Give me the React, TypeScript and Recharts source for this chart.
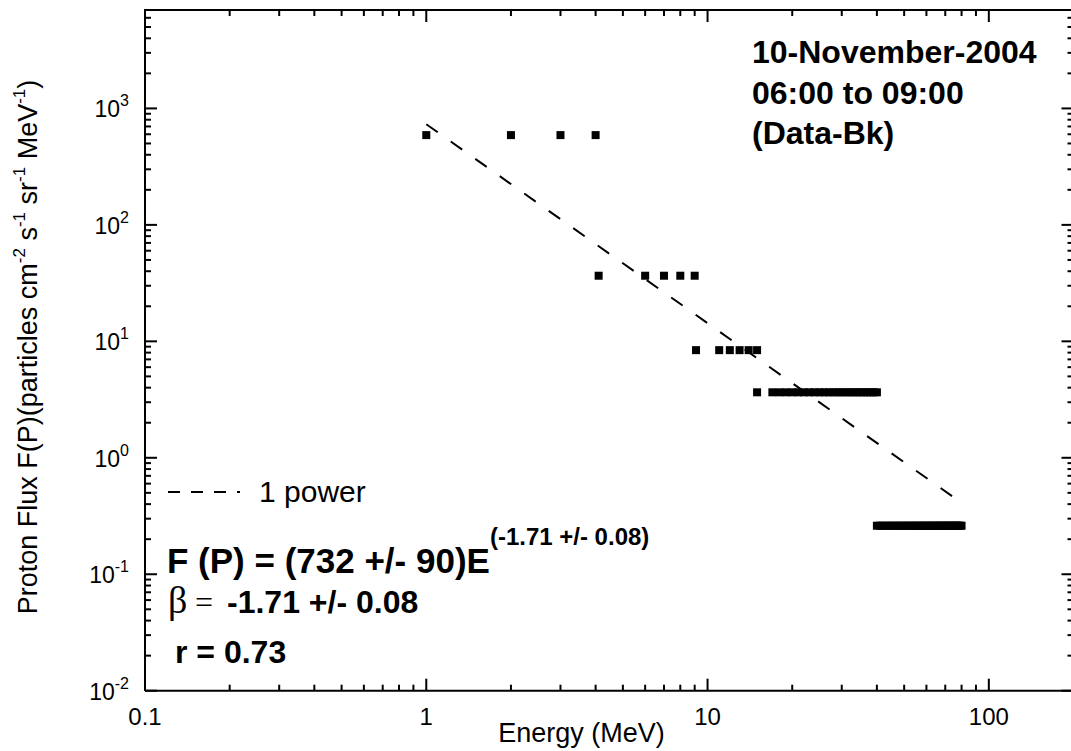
import React from 'react';
import { ComposedChart, XAxis, YAxis, Scatter } from 'recharts';

// ---- axis ticks ----
const xMajorTicks = [0.1, 1, 10, 100];
const xMajorLabels = ['0.1', '1', '10', '100'];
const xMinorTicks = [0.2, 0.3, 0.4, 0.5, 0.6, 0.7, 0.8, 0.9, 2, 3, 4, 5, 6, 7, 8, 9, 20, 30, 40, 50, 60, 70, 80, 90];
const yMajorTicks = [0.01, 0.1, 1, 10, 100, 1000];
const yMajorExponents = ['-2', '-1', '0', '1', '2', '3'];
const yMinorTicks = [
  0.02, 0.03, 0.04, 0.05, 0.06, 0.07, 0.08, 0.09,
  0.2, 0.3, 0.4, 0.5, 0.6, 0.7, 0.8, 0.9,
  2, 3, 4, 5, 6, 7, 8, 9,
  20, 30, 40, 50, 60, 70, 80, 90,
  200, 300, 400, 500, 600, 700, 800, 900,
  2000, 3000, 4000, 5000, 6000,
];
const xDomain = [0.1, 200];
const yDomain = [0.01, 7000];

// ---- data (energy in MeV, flux) ----
const band1Energy = [1, 2, 3, 4];
const band1Flux = 590;
const band2Energy = [4.1, 6, 7, 8, 9];
const band2Flux = 36.6;
const band3Energy = [9.1, 11, 12, 13, 14, 15];
const band3Flux = 8.4;
const band4Energy = [15, 17, 18, 19, 20, 21, 22, 23, 24, 25, 26, 27, 28, 29, 30, 31, 32, 33, 34, 35, 36, 37, 38, 39, 40];
const band4Flux = 3.65;
const band5Energy = [40, 41, 42, 43, 44, 45, 46, 47, 48, 49, 50, 51, 52, 53, 54, 55, 56, 57, 58, 59, 60, 61, 62, 63, 64, 65, 66, 67, 68, 69, 70, 71, 72, 73, 74, 75, 76, 77, 78, 79, 80];
const band5Flux = 0.261;

const fitEnergy = [1, 80];
const fitFlux = [732, 0.41];

const allAxisTicksX = [...xMajorTicks, ...xMinorTicks];
const allAxisTicksY = [...yMajorTicks, ...yMinorTicks];

const band = (es: number[], f: number) => es.map((e) => ({ e, f }));
const pointData = [
  ...band(band1Energy, band1Flux),
  ...band(band2Energy, band2Flux),
  ...band(band3Energy, band3Flux),
  ...band(band4Energy, band4Flux),
  ...band(band5Energy, band5Flux),
];
const fitData = fitEnergy.map((e, i) => ({ e, f: fitFlux[i] }));

const SANS = '"Liberation Sans", Arial, sans-serif';
const SERIF = '"Liberation Serif", "Times New Roman", serif';
const INK = '#000000';

// ---- layout (chart size and margins; the plot area follows from them) ----
const W = 1080;
const H = 751;
const MARGIN = { top: 10, right: 6.5, bottom: 0, left: 0 };
const Y_AXIS_W = 145;
const X_AXIS_H = 60.3;
const PLOT_L = MARGIN.left + Y_AXIS_W;
const PLOT_R = W - MARGIN.right;
const PLOT_T = MARGIN.top;
const PLOT_B = H - MARGIN.bottom - X_AXIS_H;

// the same log mapping the chart axes use for their domains
const lg = Math.log10;
const xPos = (v: number) =>
  PLOT_L + ((lg(v) - lg(xDomain[0])) / (lg(xDomain[1]) - lg(xDomain[0]))) * (PLOT_R - PLOT_L);
const yPos = (v: number) =>
  PLOT_B - ((lg(v) - lg(yDomain[0])) / (lg(yDomain[1]) - lg(yDomain[0]))) * (PLOT_B - PLOT_T);

const MAJOR = 12;
const MINOR = 6;

const XLabel = (props: any) => {
  const x = Number(props.x);
  const y = Number(props.y);
  const i = xMajorTicks.indexOf(props.payload.value);
  if (i < 0) return <g />;
  return (
    <text x={x} y={y + 34.5} textAnchor="middle" fontSize={24} fontFamily={SANS} fill={INK}>
      {xMajorLabels[i]}
    </text>
  );
};

const YLabel = (props: any) => {
  const x = Number(props.x);
  const y = Number(props.y);
  const i = yMajorTicks.indexOf(props.payload.value);
  if (i < 0) return <g />;
  return (
    <text x={x - 16} y={y + 9} textAnchor="end" fontSize={23} fontFamily={SANS} fill={INK}>
      10
      <tspan fontSize={16} dy={-11}>{yMajorExponents[i]}</tspan>
    </text>
  );
};

const Square = (props: any) => {
  const { cx, cy } = props;
  if (cx == null || cy == null) return <g />;
  return <rect x={cx - 4} y={cy - 4} width={8} height={8} fill={INK} />;
};

const FrameAndTicks = () => (
  <g>
    {/* top and right sides of the frame */}
    <line x1={PLOT_L - 1} x2={PLOT_R + 1} y1={PLOT_T} y2={PLOT_T} stroke={INK} strokeWidth={2} />
    <line x1={PLOT_R} x2={PLOT_R} y1={PLOT_T} y2={PLOT_B} stroke={INK} strokeWidth={2} />
    {allAxisTicksX.map((v) => {
      const len = xMajorTicks.includes(v) ? MAJOR : MINOR;
      const x = xPos(v);
      return (
        <g key={'x' + v}>
          <line x1={x} x2={x} y1={PLOT_B} y2={PLOT_B - len} stroke={INK} strokeWidth={2} />
          <line x1={x} x2={x} y1={PLOT_T} y2={PLOT_T + len} stroke={INK} strokeWidth={2} />
        </g>
      );
    })}
    {allAxisTicksY.map((v) => {
      const len = yMajorTicks.includes(v) ? MAJOR : MINOR;
      const y = yPos(v);
      return (
        <g key={'y' + v}>
          <line x1={PLOT_L} x2={PLOT_L + len} y1={y} y2={y} stroke={INK} strokeWidth={2} />
          <line x1={PLOT_R} x2={PLOT_R - len} y1={y} y2={y} stroke={INK} strokeWidth={2} />
        </g>
      );
    })}
  </g>
);

const Annotations = () => (
  <g>
    <text
      transform="translate(37,347) rotate(-90)"
      textAnchor="middle"
      fontSize={27}
      fontFamily={SANS}
      fill={INK}
    >
      Proton Flux F(P)(particles cm
      <tspan fontSize={17} dy={-12}>-2</tspan>
      <tspan dy={12}> s</tspan>
      <tspan fontSize={17} dy={-12}>-1</tspan>
      <tspan dy={12}> sr</tspan>
      <tspan fontSize={17} dy={-12}>-1</tspan>
      <tspan dy={12}> MeV</tspan>
      <tspan fontSize={17} dy={-12}>-1</tspan>
      <tspan dy={12}>)</tspan>
    </text>
    <text x={581.5} y={742} textAnchor="middle" fontSize={27} fontFamily={SANS} fill={INK}>
      Energy (MeV)
    </text>

    <g fontFamily={SANS} fontWeight="bold" fontSize={32} fill={INK}>
      <text x={752} y={63}>10-November-2004</text>
      <text x={752} y={104}>06:00 to 09:00</text>
      <text x={752} y={144}>(Data-Bk)</text>
    </g>

    <line x1={168} x2={240} y1={492} y2={492} stroke={INK} strokeWidth={2} strokeDasharray="12 11" />
    <text x={259} y={502} fontSize={30} fontFamily={SANS} fill={INK}>1 power</text>

    <text x={167} y={573} fontSize={35} fontFamily={SANS} fontWeight="bold" fill={INK}>
      F (P) = (732 +/- 90)E
      <tspan fontSize={24} dy={-28}>(-1.71 +/- 0.08)</tspan>
    </text>
    <text y={613} fontSize={32} fill={INK}>
      <tspan x={168} fontFamily={SERIF} fontSize={38}>β</tspan>
      <tspan x={195} fontFamily={SERIF} fontSize={32}>=</tspan>
      <tspan x={227} fontFamily={SANS} fontWeight="bold">-1.71 +/- 0.08</tspan>
    </text>
    <text x={175} y={663} fontSize={32} fontFamily={SANS} fontWeight="bold" fill={INK}>
      r = 0.73
    </text>
  </g>
);

export default function App() {
  return (
    <div style={{ position: 'relative', width: W, height: H }}>
      <style>{'body{margin:0;overflow:hidden;background:#fff}'}</style>
      <ComposedChart width={W} height={H} margin={MARGIN}>
        <XAxis
          dataKey="e"
          type="number"
          scale="log"
          domain={xDomain}
          allowDataOverflow
          ticks={allAxisTicksX}
          interval={0}
          height={X_AXIS_H}
          tickSize={0}
          tickMargin={0}
          tickLine={false}
          axisLine={{ stroke: INK, strokeWidth: 2 }}
          tick={<XLabel />}
        />
        <YAxis
          dataKey="f"
          type="number"
          scale="log"
          domain={yDomain}
          allowDataOverflow
          ticks={allAxisTicksY}
          interval={0}
          width={Y_AXIS_W}
          tickSize={0}
          tickMargin={0}
          tickLine={false}
          axisLine={{ stroke: INK, strokeWidth: 2 }}
          tick={<YLabel />}
        />
        <Scatter
          data={fitData}
          line={{ stroke: INK, strokeWidth: 2, strokeDasharray: '14 16' }}
          shape={() => <g />}
          isAnimationActive={false}
        />
        <Scatter data={pointData} shape={(p: any) => <Square {...p} />} isAnimationActive={false} />
      </ComposedChart>
      <svg
        width={W}
        height={H}
        style={{ position: 'absolute', left: 0, top: 0, pointerEvents: 'none' }}
      >
        <FrameAndTicks />
        <Annotations />
      </svg>
    </div>
  );
}
